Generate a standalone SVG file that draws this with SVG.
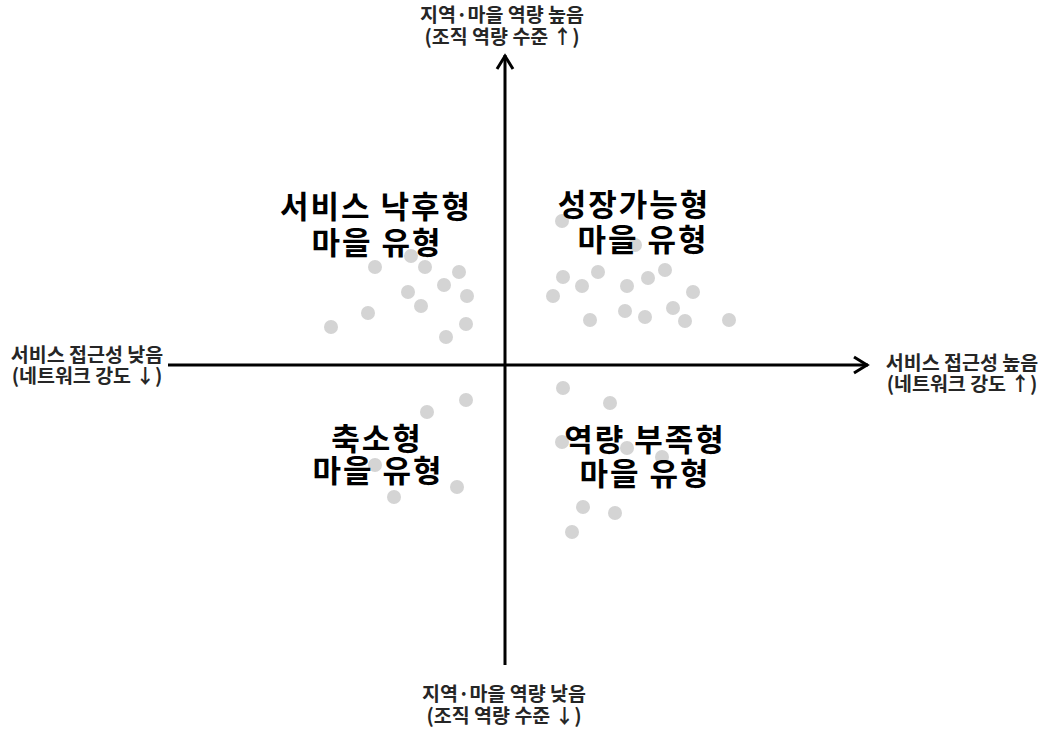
<svg xmlns="http://www.w3.org/2000/svg" width="1048" height="729" viewBox="0 0 1048 729">
<style>
.ax{font-family:"Noto Sans CJK KR","Noto Sans",sans-serif;font-size:19.5px;font-weight:bold;fill:#262626;text-anchor:middle}
.q{font-family:"Noto Sans CJK KR","Noto Sans",sans-serif;font-size:31px;font-weight:bold;fill:#000;text-anchor:middle;letter-spacing:2px}
.dot{fill:#d4d4d4}
.axis{stroke:#000;stroke-width:3;fill:none}
</style>
<defs>
<marker id="arr" viewBox="-18 -10 20 20" refX="0" refY="0" markerWidth="20" markerHeight="20" orient="auto" markerUnits="userSpaceOnUse">
<path d="M-14,-8 L-1,0 L-14,8" fill="none" stroke="#000" stroke-width="3"/>
</marker>
</defs>
<rect width="1048" height="729" fill="#fff"/>
<g id="dots">
<circle class="dot" cx="375" cy="267" r="7"/><circle class="dot" cx="411" cy="256" r="7"/><circle class="dot" cx="425" cy="267" r="7"/><circle class="dot" cx="459" cy="272" r="7"/><circle class="dot" cx="408" cy="292" r="7"/><circle class="dot" cx="444" cy="285" r="7"/><circle class="dot" cx="467" cy="296" r="7"/><circle class="dot" cx="421" cy="306" r="7"/><circle class="dot" cx="368" cy="313" r="7"/><circle class="dot" cx="331" cy="327" r="7"/><circle class="dot" cx="466" cy="324" r="7"/><circle class="dot" cx="446" cy="337" r="7"/>
<circle class="dot" cx="562" cy="221" r="7"/><circle class="dot" cx="635" cy="245" r="7"/><circle class="dot" cx="563" cy="277" r="7"/><circle class="dot" cx="598" cy="272" r="7"/><circle class="dot" cx="582" cy="286" r="7"/><circle class="dot" cx="553" cy="296" r="7"/><circle class="dot" cx="627" cy="286" r="7"/><circle class="dot" cx="648" cy="278" r="7"/><circle class="dot" cx="665" cy="270" r="7"/><circle class="dot" cx="693" cy="292" r="7"/><circle class="dot" cx="590" cy="320" r="7"/><circle class="dot" cx="625" cy="311" r="7"/><circle class="dot" cx="645" cy="317" r="7"/><circle class="dot" cx="673" cy="308" r="7"/><circle class="dot" cx="685" cy="321" r="7"/><circle class="dot" cx="729" cy="320" r="7"/>
<circle class="dot" cx="466" cy="400" r="7"/><circle class="dot" cx="427" cy="412" r="7"/><circle class="dot" cx="375" cy="465" r="7"/><circle class="dot" cx="457" cy="487" r="7"/><circle class="dot" cx="394" cy="497" r="7"/>
<circle class="dot" cx="563" cy="388" r="7"/><circle class="dot" cx="610" cy="403" r="7"/><circle class="dot" cx="562" cy="442" r="7"/><circle class="dot" cx="627" cy="448" r="7"/><circle class="dot" cx="662" cy="457" r="7"/><circle class="dot" cx="583" cy="507" r="7"/><circle class="dot" cx="615" cy="513" r="7"/><circle class="dot" cx="572" cy="532" r="7"/>
</g>
<g id="connectors">
<line class="axis" x1="505" y1="665" x2="505" y2="55" marker-end="url(#arr)"/>
<line class="axis" x1="168" y1="365" x2="868" y2="365" marker-end="url(#arr)"/>
</g>
<g id="label-top">
<text class="ax" x="502" y="22">지역·마을 역량 높음</text>
<text class="ax" x="502" y="44">(조직 역량 수준 ↑)</text>
</g>
<g id="label-bottom">
<text class="ax" x="504" y="701">지역·마을 역량 낮음</text>
<text class="ax" x="504" y="723">(조직 역량 수준 ↓)</text>
</g>
<g id="label-left">
<text class="ax" x="87" y="362">서비스 접근성 낮음</text>
<text class="ax" x="87" y="383">(네트워크 강도 ↓)</text>
</g>
<g id="label-right">
<text class="ax" x="962" y="370">서비스 접근성 높음</text>
<text class="ax" x="962" y="391">(네트워크 강도 ↑)</text>
</g>
<g id="q-upper-left">
<text class="q" x="376" y="218">서비스 낙후형</text>
<text class="q" x="377" y="254">마을 유형</text>
</g>
<g id="q-upper-right">
<text class="q" x="634" y="216">성장가능형</text>
<text class="q" x="643" y="251">마을 유형</text>
</g>
<g id="q-lower-left">
<text class="q" x="377" y="450">축소형</text>
<text class="q" x="378" y="482">마을 유형</text>
</g>
<g id="q-lower-right">
<text class="q" x="645" y="451">역량 부족형</text>
<text class="q" x="645" y="485">마을 유형</text>
</g>
</svg>
